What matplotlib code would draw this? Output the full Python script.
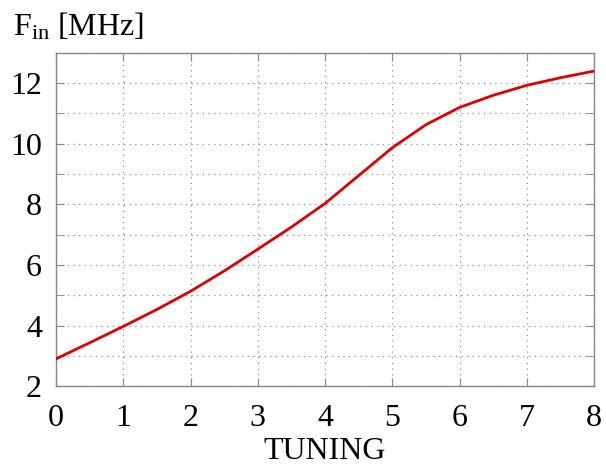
import numpy as np
import matplotlib.pyplot as plt
from matplotlib.ticker import MultipleLocator

plt.rcParams['font.family'] = ['Liberation Serif', 'DejaVu Serif']
plt.rcParams['mathtext.fontset'] = 'custom'
plt.rcParams['mathtext.rm'] = 'Liberation Serif'

# valori
tuning = [0, 0.5, 1, 1.5, 2, 2.5, 3, 3.5, 4, 4.5, 5, 5.5, 6, 6.5, 7, 7.5, 8]
f_in = [2.9, 3.43, 3.97, 4.53, 5.13, 5.8, 6.52, 7.25, 8.03, 8.95, 9.87,
        10.63, 11.2, 11.6, 11.93, 12.18, 12.4]
xticks = [0, 1, 2, 3, 4, 5, 6, 7, 8]
yticks = [2, 4, 6, 8, 10, 12]

fig = plt.figure(figsize=(6.06, 4.68), dpi=100)
ax = fig.add_axes([0.0924, 0.175, 0.888, 0.712])

ax.plot(tuning, f_in, color='#e00000', lw=2.0, zorder=3)

ax.set_xlim(0, 8)
ax.set_ylim(2, 13)
ax.set_xticks(xticks)
ax.set_yticks(yticks)
ax.yaxis.set_minor_locator(MultipleLocator(1))
ax.grid(True, which='both', color='#909090', linestyle=(0, (1, 3.5)), lw=0.9)

grey = '#888888'
for s in ax.spines.values():
    s.set_color(grey)
    s.set_linewidth(1.0)
ax.tick_params(which='both', direction='in', top=True, right=True,
               color=grey, labelsize=23, length=6)
ax.tick_params(axis='x', pad=13)
ax.tick_params(axis='y', pad=10)

ax.set_xlabel('TUNING', fontsize=23, labelpad=3)
fig.text(0.022, 0.925, r'$\mathrm{F_{in}}$ [MHz]', fontsize=23, ha='left', va='baseline')

plt.savefig('out.png', dpi=100)
plt.close()
